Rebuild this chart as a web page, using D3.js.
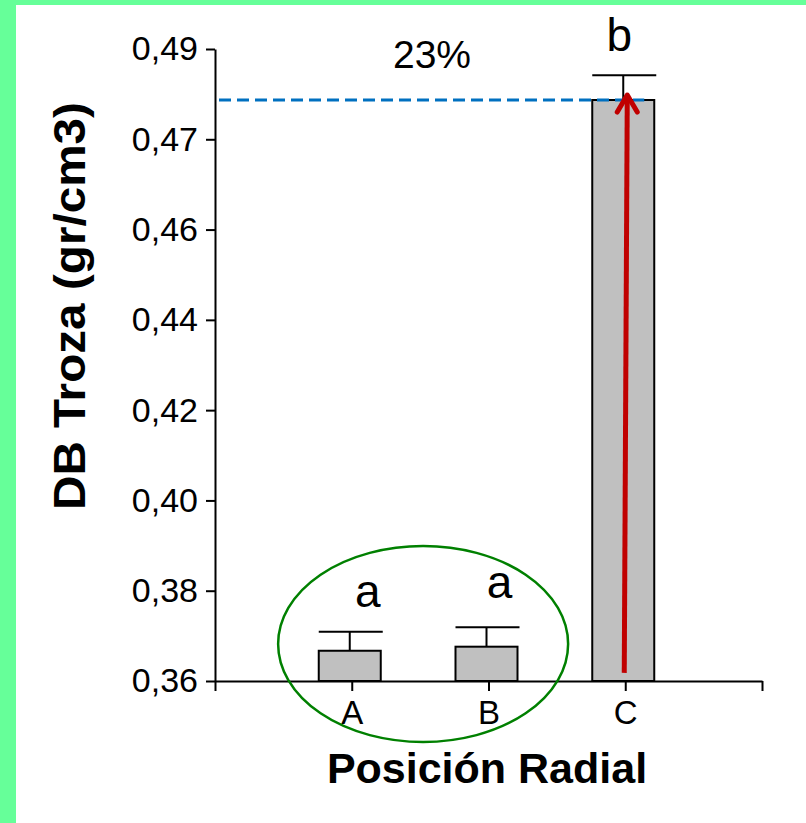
<!DOCTYPE html>
<html>
<head>
<meta charset="utf-8">
<script src="https://cdn.jsdelivr.net/npm/d3@7"></script>
<style>
  html, body { margin: 0; padding: 0; background: #fff; }
  svg { display: block; }
  text { font-family: "Liberation Sans", Arial, sans-serif; fill: #000; }
</style>
</head>
<body>
<script>
// ---- data ----
const categories = ["A", "B", "C"];
const means = [0.3667, 0.3676, 0.4887];
const errors = [0.0042, 0.0043, 0.0055];
const letters = ["a", "a", "b"];
const yTickValues = [0.36, 0.38, 0.40, 0.42, 0.44, 0.46, 0.48, 0.50];
const yTickLabels = ["0,36", "0,38", "0,40", "0,42", "0,44", "0,46", "0,47", "0,49"];
const increaseLabel = "23%";
const xTitle = "Posición Radial";
const yTitle = "DB Troza (gr/cm3)";

// ---- layout ----
const W = 806, H = 823;
const svg = d3.select("body").append("svg").attr("width", W).attr("height", H);

// green frame
svg.append("rect").attr("x", 0).attr("y", 0).attr("width", W).attr("height", H).attr("fill", "#66ff99");
svg.append("rect").attr("x", 16).attr("y", 5).attr("width", W - 16).attr("height", H - 5).attr("fill", "#ffffff");

const x = d3.scaleLinear().domain([0, categories.length + 1]).range([215, 762]);
const y = d3.scaleLinear().domain([0.36, 0.50]).range([681, 49]);
const barW = 62;

// y axis
const yAxis = d3.axisLeft(y).tickValues(yTickValues)
  .tickFormat((d, i) => yTickLabels[i]).tickSize(9).tickSizeOuter(0).tickPadding(8);
const gy = svg.append("g").attr("transform", `translate(${x(0)},0)`).call(yAxis);
gy.select(".domain").attr("stroke", "#000").attr("stroke-width", 2);
gy.selectAll(".tick line").attr("stroke", "#000").attr("stroke-width", 2);
gy.selectAll(".tick text").attr("font-size", 34).attr("font-family", "Liberation Sans, Arial, sans-serif").attr("fill", "#000");

// x axis
const xTicks = d3.range(0, categories.length + 2);
const xAxis = d3.axisBottom(x).tickValues(xTicks)
  .tickFormat(d => (d >= 1 && d <= categories.length) ? categories[d - 1] : "")
  .tickSize(10).tickSizeOuter(0).tickPadding(10);
const gx = svg.append("g").attr("transform", `translate(0,${y(0.36)})`).call(xAxis);
gx.select(".domain").attr("stroke", "#000").attr("stroke-width", 2);
gx.selectAll(".tick line").attr("stroke", "#000").attr("stroke-width", 2);
gx.selectAll(".tick text").attr("font-size", 33).attr("font-family", "Liberation Sans, Arial, sans-serif").attr("fill", "#000");

const cx = i => x(i + 1) - 2;

// bars
svg.selectAll("rect.bar").data(means).enter().append("rect")
  .attr("class", "bar")
  .attr("x", (d, i) => cx(i) - barW / 2)
  .attr("y", d => y(d))
  .attr("width", barW)
  .attr("height", d => y(0.36) - y(d))
  .attr("fill", "#c0c0c0").attr("stroke", "#000").attr("stroke-width", 2);

// error bars
const eg = svg.append("g").attr("stroke", "#000").attr("stroke-width", 2);
means.forEach((m, i) => {
  eg.append("line").attr("x1", cx(i)).attr("x2", cx(i)).attr("y1", y(m)).attr("y2", y(m + errors[i]));
  eg.append("line").attr("x1", cx(i) - barW / 2).attr("x2", cx(i) + barW / 2 + 2)
    .attr("y1", y(m + errors[i])).attr("y2", y(m + errors[i]));
});

// significance letters
const letterDx = [18, 13, -4];
const letterGap = [25, 29, 24];
svg.selectAll("text.sig").data(letters).enter().append("text")
  .attr("class", "sig")
  .attr("x", (d, i) => cx(i) + letterDx[i])
  .attr("y", (d, i) => y(means[i] + errors[i]) - letterGap[i])
  .attr("text-anchor", "middle").attr("font-size", 46).text(d => d);

// dashed reference line at C level
const cIdx = 2;
svg.append("line")
  .attr("x1", x(0) + 4).attr("x2", cx(cIdx) + 21)
  .attr("y1", y(means[cIdx])).attr("y2", y(means[cIdx]))
  .attr("stroke", "#0070c0").attr("stroke-width", 3).attr("stroke-dasharray", "12,6");

// percent label
svg.append("text").attr("x", 432).attr("y", 68).attr("text-anchor", "middle")
  .attr("font-size", 39).text(increaseLabel);

// green ellipse around A and B
svg.append("ellipse")
  .attr("cx", (cx(0) + cx(1)) / 2 + 5).attr("cy", y(0.3682))
  .attr("rx", 145).attr("ry", 98)
  .attr("fill", "none").attr("stroke", "#008000").attr("stroke-width", 2.5);

// red arrow
const ax0 = cx(cIdx) + 1, ay0 = y(0.3618);
const ax1 = cx(cIdx) + 4, ay1 = y(means[cIdx]) - 5;
svg.append("line").attr("x1", ax0).attr("y1", ay0).attr("x2", ax1).attr("y2", ay1 + 3)
  .attr("stroke", "#c00000").attr("stroke-width", 5);
svg.append("path")
  .attr("d", `M${ax1 - 10},${ay1 + 17} L${ax1},${ay1} L${ax1 + 10},${ay1 + 17}`)
  .attr("fill", "none").attr("stroke", "#c00000").attr("stroke-width", 5)
  .attr("stroke-linecap", "round").attr("stroke-linejoin", "round");

// axis titles
svg.append("text").attr("x", 487).attr("y", 783).attr("text-anchor", "middle")
  .attr("font-size", 43).attr("font-weight", "bold").text(xTitle);
svg.append("text").attr("transform", "translate(85,306) rotate(-90)")
  .attr("text-anchor", "middle").attr("font-size", 45).attr("font-weight", "bold")
  .attr("textLength", 408).attr("lengthAdjust", "spacingAndGlyphs").text(yTitle);
</script>
</body>
</html>
